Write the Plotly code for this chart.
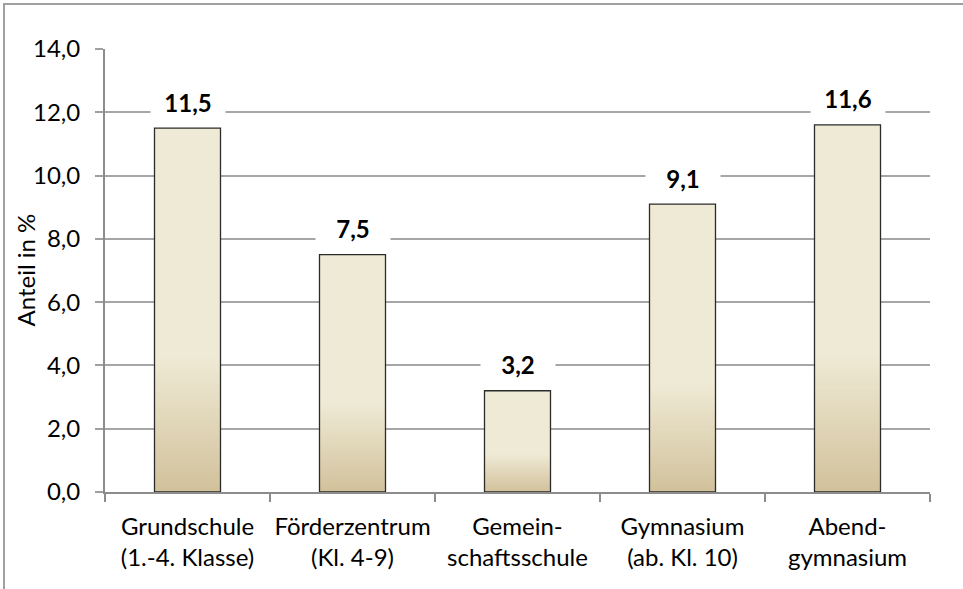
import plotly.graph_objects as go

categories = ["Grundschule<br>(1.-4. Klasse)", "Förderzentrum<br>(Kl. 4-9)",
              "Gemein-<br>schaftsschule", "Gymnasium<br>(ab. Kl. 10)", "Abend-<br>gymnasium"]
values = [11.5, 7.5, 3.2, 9.1, 11.6]
value_labels = ["11,5", "7,5", "3,2", "9,1", "11,6"]
y_ticks = [0, 2, 4, 6, 8, 10, 12, 14]
y_title = "Anteil in %"

FONT = "Lato"
FS = 24
top_rgb = (239, 234, 213)
bot_rgb = (210, 194, 156)
grad_frac = 0.38
N = 40

fig = go.Figure()

# base (light) bar
fig.add_trace(go.Bar(x=categories, y=values, width=0.4,
                     marker=dict(color="rgb(%d,%d,%d)" % top_rgb, line=dict(width=0)),
                     hoverinfo="skip", showlegend=False))
# gradient overlay: nested bars, darker towards the bottom
for k in range(1, N + 1):
    f = grad_frac * (1 - k / (N + 1))
    t = k / N
    c = tuple(round(top_rgb[i] + (bot_rgb[i] - top_rgb[i]) * t) for i in range(3))
    fig.add_trace(go.Bar(x=categories, y=[v * f for v in values], width=0.4,
                         marker=dict(color="rgb(%d,%d,%d)" % c, line=dict(width=0)),
                         hoverinfo="skip", showlegend=False))
# outline
fig.add_trace(go.Bar(x=categories, y=values, width=0.4,
                     marker=dict(color="rgba(0,0,0,0)", line=dict(color="#2b2b2b", width=1.3)),
                     showlegend=False))

for c, v, lab in zip(categories, values, value_labels):
    fig.add_annotation(x=c, y=v, text="<b>%s</b>" % lab, showarrow=False,
                       yanchor="middle", yshift=26, bgcolor="white", width=72,
                       font=dict(family=FONT, size=FS, color="black"))

fig.add_annotation(xref="paper", yref="paper", x=(25 - 105) / 825, y=0.5,
                   text=y_title, textangle=-90, showarrow=False,
                   xanchor="center", yanchor="middle",
                   font=dict(family=FONT, size=FS, color="black"))

fig.add_shape(type="rect", xref="paper", yref="paper",
              x0=(4 - 105) / 825, x1=1.2, y0=-0.4, y1=(492 - 4) / 443,
              line=dict(color="#a0a0a0", width=2), fillcolor="rgba(0,0,0,0)", layer="below")

fig.update_layout(
    barmode="overlay",
    width=963, height=589,
    margin=dict(l=105, r=33, t=49, b=97, autoexpand=False),
    paper_bgcolor="white", plot_bgcolor="white",
    separators=",.",
    font=dict(family=FONT, size=FS, color="black"),
    xaxis=dict(showline=True, linecolor="#8c8c8c", linewidth=2,
               ticks="outside", ticklen=8, tickcolor="#8c8c8c", tickwidth=2,
               tickson="boundaries", showgrid=False, ticklabelstandoff=12,
               tickangle=0, automargin=False,
               tickfont=dict(family=FONT, size=FS, color="black")),
    yaxis=dict(range=[0, 14], tickvals=y_ticks, tickformat=".1f",
               showline=True, linecolor="#8c8c8c", linewidth=2,
               ticks="outside", ticklen=8, tickcolor="#a0a0a0", tickwidth=2,
               showgrid=True, gridcolor="#a6a6a6", gridwidth=2, zeroline=False,
               automargin=False, ticklabelstandoff=10,
               tickfont=dict(family=FONT, size=FS, color="black")),
)

fig.write_html("out.html", post_script="document.body.style.margin='0';",
               config={"displayModeBar": False})
